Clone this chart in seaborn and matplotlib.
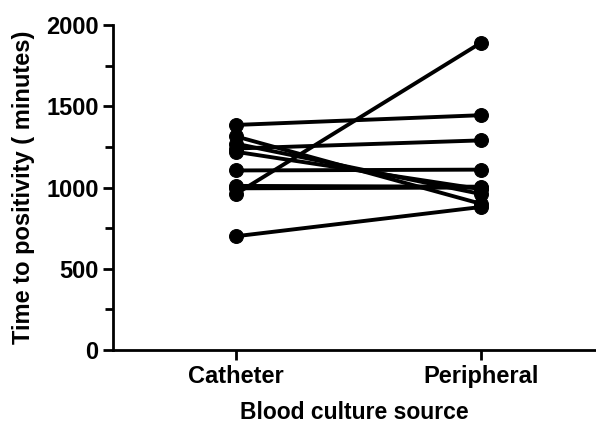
import pandas as pd
import matplotlib.pyplot as plt
import seaborn as sns
from matplotlib.ticker import MultipleLocator

sources = ['Catheter', 'Peripheral']
catheter = [1385, 1315, 1270, 1240, 1220, 1105, 1010, 995, 960, 700]
peripheral = [1445, 900, 960, 1290, 990, 1110, 1005, 1000, 1890, 880]

rows = []
for i in range(len(catheter)):
    rows.append({'pair': i, 'source': sources[0], 'time': catheter[i]})
    rows.append({'pair': i, 'source': sources[1], 'time': peripheral[i]})
df = pd.DataFrame(rows)

sns.set_style('ticks', {'text.color': 'black', 'axes.labelcolor': 'black',
                        'xtick.color': 'black', 'ytick.color': 'black',
                        'axes.edgecolor': 'black'})
plt.rcParams['font.family'] = ['Liberation Sans', 'DejaVu Sans']
plt.rcParams['font.weight'] = 'bold'

fig = plt.figure(figsize=(5.96, 4.24), dpi=100)
ax = fig.add_axes([0.19, 0.1745, 0.81, 0.7665])

sns.lineplot(data=df, x='source', y='time', units='pair', estimator=None,
             color='black', marker='o', markersize=10, linewidth=2.8,
             markeredgecolor='black', ax=ax)

ax.set_xlim(-0.5, 1.47)
ax.set_ylim(0, 2000)
ax.yaxis.set_major_locator(MultipleLocator(500))
ax.yaxis.set_minor_locator(MultipleLocator(250))
ax.tick_params(axis='both', which='major', length=7, width=2, labelsize=17)
ax.tick_params(axis='y', which='minor', length=6, width=2)
for lab in ax.get_xticklabels() + ax.get_yticklabels():
    lab.set_fontweight('bold')
ax.set_xlabel('Blood culture source', fontsize=16.5, fontweight='bold', labelpad=10)
ax.set_ylabel('Time to positivity ( minutes)', fontsize=17, fontweight='bold', labelpad=8)
for s in ['left', 'bottom']:
    ax.spines[s].set_linewidth(2)
sns.despine(ax=ax)

fig.savefig('out.png', dpi=100)
